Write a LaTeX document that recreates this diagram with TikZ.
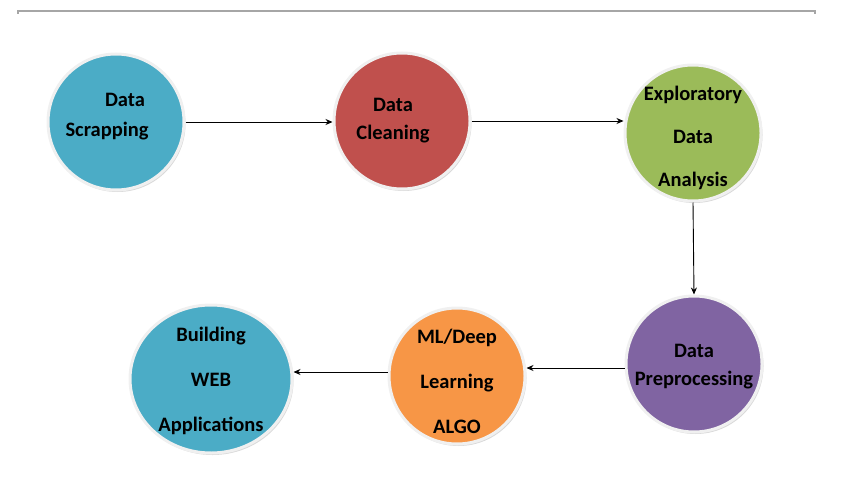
\documentclass[tikz,border=0pt]{standalone}
\usepackage{fontspec}
\setmainfont{Carlito}
\usetikzlibrary{arrows.meta,shapes.geometric,shadows}

\definecolor{stepaqua}{RGB}{75,172,198}
\definecolor{stepred}{RGB}{192,80,77}
\definecolor{stepgreen}{RGB}{155,187,89}
\definecolor{steppurple}{RGB}{128,100,162}
\definecolor{steporange}{RGB}{247,150,70}

\tikzset{
  stage/.style={ellipse, minimum width=136pt, minimum height=136pt, inner sep=0pt,
    draw=white!88!gray, line width=3pt,
    drop shadow={shadow xshift=1.5pt, shadow yshift=-2pt, opacity=0.3}},
  stagetext/.style={align=center, inner sep=0pt, font=\fontsize{20.5}{24}\selectfont\bfseries},
  flow/.style={-{Stealth[length=7pt,width=6pt]}, line width=0.9pt}
}

\begin{document}
\begin{tikzpicture}[x=1pt,y=-1pt]
	\useasboundingbox (0,0) rectangle (850,476);
	\draw[gray!70, line width=1.2pt] (18,14) -- (18,11) -- (815,11) -- (815,14);
	% top row
	\node[stage, fill=stepaqua, label={[stagetext, yshift=5pt]center:\hspace*{18pt}Data\\[6pt]Scrapping\hspace*{18pt}}] (scrap) at (116,122) {};
	\node[stage, fill=stepred, label={[stagetext, xshift=-9pt]center:Data\\[4pt]Cleaning}] (clean) at (402,121) {};
	\node[stage, fill=stepgreen, label={[stagetext, yshift=-5pt]center:Exploratory\\[19pt]Data\\[19pt]Analysis}] (eda) at (693,133) {};
	% bottom row
	\node[stage, fill=steppurple, label={[stagetext, yshift=-3pt]center:Data\\[4pt]Preprocessing}] (prep) at (694,364) {};
	\node[stage, fill=steporange, label={[stagetext, yshift=-5pt]center:ML/Deep\\[21pt]Learning\\[21pt]ALGO}] (ml) at (457,376) {};
	\node[stage, fill=stepaqua, minimum width=162pt, minimum height=148pt, label={[stagetext, yshift=-2pt]center:Building\\[21pt]WEB\\[21pt]Applications}] (web) at (211,379) {};
	\coordinate (prepout) at ([yshift=-4pt]prep.west);
	\coordinate (mlout) at ([yshift=4pt]ml.west);
	% flow
	\draw[flow] (scrap.east) -- (clean.west |- scrap.east);
	\draw[flow] (clean.east) -- (eda.west |- clean.east);
	\draw[flow] (eda.south) -- (prep.north);
	\draw[flow] (prepout) -- (ml.east |- prepout);
	\draw[flow] (mlout) -- (web.east |- mlout);
\end{tikzpicture}
\end{document}
